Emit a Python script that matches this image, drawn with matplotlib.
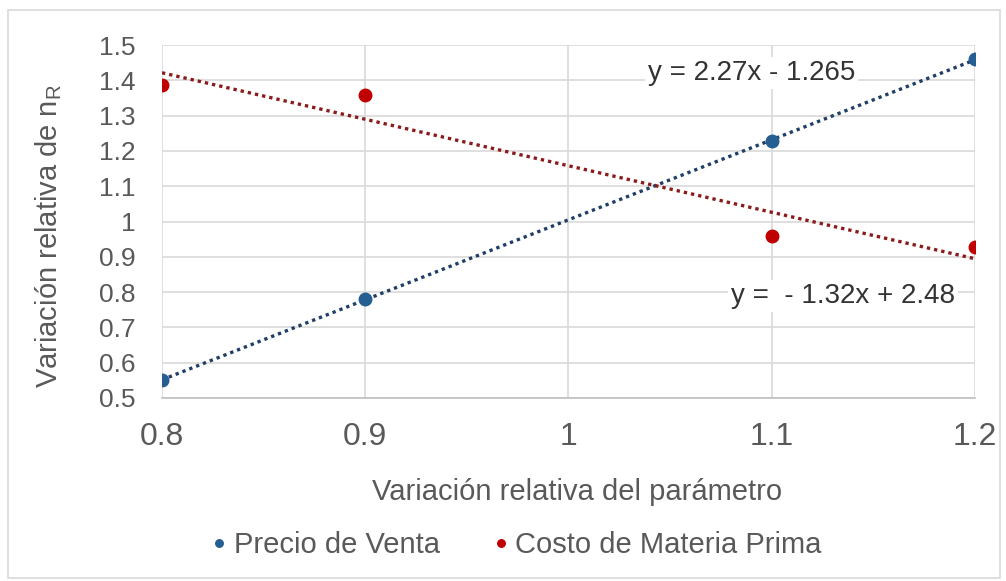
import numpy as np
import matplotlib.pyplot as plt
from matplotlib.patches import Rectangle

plt.rcParams['font.family'] = ['Liberation Sans', 'DejaVu Sans']
plt.rcParams['mathtext.fontset'] = 'custom'
plt.rcParams['mathtext.rm'] = 'Liberation Sans'

# Datos
x_vals = [0.8, 0.9, 1.1, 1.2]
precio_venta = [0.551, 0.78, 1.228, 1.46]
costo_materia = [1.387, 1.358, 0.959, 0.928]
x_ticks = [0.8, 0.9, 1.0, 1.1, 1.2]
x_tick_labels = ['0.8', '0.9', '1', '1.1', '1.2']
y_ticks = [0.5, 0.6, 0.7, 0.8, 0.9, 1.0, 1.1, 1.2, 1.3, 1.4, 1.5]
y_tick_labels = ['0.5', '0.6', '0.7', '0.8', '0.9', '1', '1.1', '1.2', '1.3', '1.4', '1.5']

azul = '#255e91'
rojo = '#c00000'
gris_texto = '#595959'

fig = plt.figure(figsize=(10.06, 5.81), dpi=100)
fig.patches.append(Rectangle((0.008, 0.005), 0.986, 0.978, transform=fig.transFigure,
                             fill=False, edgecolor='#d9d9d9', linewidth=1.2))
ax = fig.add_axes([0.161, 0.315, 0.808, 0.6075])

# Líneas de tendencia (ajuste lineal)
xx = np.array([0.8, 1.2])
for ys, col in [(precio_venta, '#1f3f66'), (costo_materia, '#8b1a1a')]:
    m, b = np.polyfit(x_vals, ys, 1)
    ax.plot(xx, m * xx + b, linestyle=(0, (1, 1.2)), color=col, linewidth=2.4, zorder=3)

ax.plot(x_vals, precio_venta, 'o', color=azul, markersize=9, label='Precio de Venta', zorder=4)
ax.plot(x_vals, costo_materia, 'o', color=rojo, markersize=9, label='Costo de Materia Prima', zorder=4)

ax.text(1.09, 1.42, 'y = 2.27x - 1.265', fontsize=20, color='#333333', ha='center', va='center',
        bbox=dict(facecolor='white', edgecolor='none', pad=2), zorder=5)
ax.text(1.135, 0.789, 'y =  - 1.32x + 2.48', fontsize=20, color='#333333', ha='center', va='center',
        bbox=dict(facecolor='white', edgecolor='none', pad=2), zorder=5)

ax.set_xlim(0.8, 1.2)
ax.set_ylim(0.5, 1.5)
ax.set_xticks(x_ticks)
ax.set_xticklabels(x_tick_labels)
ax.set_yticks(y_ticks)
ax.set_yticklabels(y_tick_labels)
ax.tick_params(length=0, labelcolor=gris_texto)
ax.tick_params(axis='x', pad=17, labelsize=23)
ax.tick_params(axis='y', pad=19, labelsize=19)
ax.grid(True, color='#d9d9d9', linewidth=1.2)
ax.set_axisbelow(True)
for s in ['top', 'right', 'left']:
    ax.spines[s].set_visible(False)
ax.spines['bottom'].set_color('#bfbfbf')
ax.spines['bottom'].set_linewidth(1.2)

ax.set_xlabel('Variación relativa del parámetro', fontsize=21, color=gris_texto)
ax.xaxis.set_label_coords(0.511, -0.266)
ax.xaxis.label.set_va('center')
ax.set_ylabel(r'Variación relativa de n$_\mathrm{R}$', fontsize=21, color=gris_texto)
ax.yaxis.set_label_coords(-0.14, 0.46)
ax.yaxis.label.set_va('center')

leg = fig.legend(loc='center', bbox_to_anchor=(0.51, 0.062), ncol=2, frameon=False,
                 fontsize=21, markerscale=0.6, handletextpad=0.0, columnspacing=1.6,
                 handlelength=1.0)
for t in leg.get_texts():
    t.set_color(gris_texto)

fig.savefig('out.png', dpi=100)
